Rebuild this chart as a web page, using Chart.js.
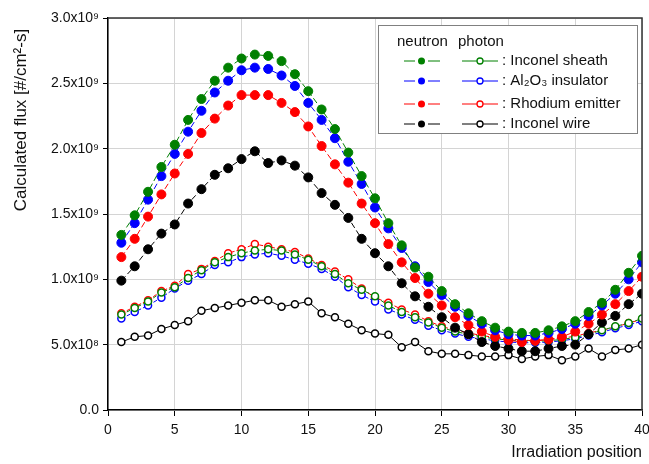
<!DOCTYPE html>
<html>
<head>
<meta charset="utf-8">
<script src="https://cdn.jsdelivr.net/npm/chart.js@4.4.1/dist/chart.umd.min.js"></script>
<style>
  html, body { margin: 0; padding: 0; background: #fff; }
  #wrap { width: 649px; height: 464px; }
</style>
</head>
<body>
<div id="wrap"><canvas id="fluxChart" width="649" height="464"></canvas></div>
<script>
// irradiation positions 1..40
const positions = [1, 2, 3, 4, 5, 6, 7, 8, 9, 10, 11, 12, 13, 14, 15, 16, 17, 18, 19, 20,
  21, 22, 23, 24, 25, 26, 27, 28, 29, 30, 31, 32, 33, 34, 35, 36, 37, 38, 39, 40];

// flux values in units of 1e9 #/cm2-s
const sheathNeutron = [1.34, 1.49, 1.67, 1.86, 2.03, 2.22, 2.38, 2.52, 2.62, 2.69, 2.72, 2.71, 2.67, 2.57, 2.44, 2.30, 2.15, 1.97, 1.79, 1.62,
  1.43, 1.26, 1.09, 1.02, 0.91, 0.81, 0.74, 0.68, 0.63, 0.60, 0.59, 0.59, 0.61, 0.64, 0.68, 0.75, 0.82, 0.92, 1.05, 1.18];
const insulatorNeutron = [1.28, 1.43, 1.61, 1.79, 1.96, 2.13, 2.29, 2.43, 2.52, 2.60, 2.62, 2.61, 2.56, 2.48, 2.35, 2.22, 2.08, 1.90, 1.73, 1.55,
  1.39, 1.24, 1.10, 0.98, 0.88, 0.79, 0.72, 0.66, 0.61, 0.58, 0.57, 0.57, 0.59, 0.62, 0.66, 0.72, 0.80, 0.89, 1.00, 1.13];
const emitterNeutron = [1.17, 1.31, 1.48, 1.65, 1.81, 1.96, 2.12, 2.23, 2.33, 2.41, 2.41, 2.41, 2.35, 2.28, 2.17, 2.02, 1.88, 1.74, 1.58, 1.43,
  1.27, 1.13, 1.01, 0.89, 0.80, 0.71, 0.65, 0.60, 0.56, 0.535, 0.52, 0.53, 0.54, 0.56, 0.60, 0.66, 0.73, 0.81, 0.91, 1.02];
const wireNeutron = [0.99, 1.10, 1.23, 1.35, 1.42, 1.58, 1.69, 1.80, 1.85, 1.92, 1.98, 1.89, 1.91, 1.87, 1.78, 1.66, 1.57, 1.47, 1.31, 1.20,
  1.10, 0.97, 0.87, 0.79, 0.71, 0.63, 0.58, 0.52, 0.49, 0.47, 0.45, 0.45, 0.47, 0.49, 0.50, 0.58, 0.67, 0.72, 0.81, 0.89];

const sheathPhoton = [0.73, 0.78, 0.83, 0.90, 0.94, 1.01, 1.07, 1.13, 1.17, 1.20, 1.22, 1.23, 1.22, 1.19, 1.15, 1.10, 1.04, 0.97, 0.92, 0.87,
  0.80, 0.75, 0.71, 0.67, 0.63, 0.60, 0.58, 0.56, 0.545, 0.535, 0.53, 0.525, 0.53, 0.54, 0.555, 0.58, 0.61, 0.64, 0.665, 0.70];
const insulatorPhoton = [0.70, 0.75, 0.80, 0.86, 0.93, 0.99, 1.04, 1.11, 1.13, 1.17, 1.19, 1.20, 1.18, 1.15, 1.12, 1.08, 1.02, 0.94, 0.88, 0.83,
  0.77, 0.73, 0.69, 0.645, 0.61, 0.585, 0.56, 0.545, 0.53, 0.52, 0.515, 0.515, 0.52, 0.53, 0.545, 0.57, 0.595, 0.625, 0.65, 0.68];
const emitterPhoton = [0.74, 0.79, 0.84, 0.91, 0.95, 1.04, 1.08, 1.14, 1.20, 1.23, 1.27, 1.25, 1.23, 1.21, 1.16, 1.11, 1.06, 1.00, 0.93, 0.86,
  0.82, 0.77, 0.73, 0.68, 0.64, 0.61, 0.59, 0.57, 0.555, 0.545, 0.535, 0.53, 0.54, 0.55, 0.565, 0.59, 0.61, 0.635, 0.665, 0.695];
const wirePhoton = [0.52, 0.56, 0.57, 0.62, 0.65, 0.68, 0.76, 0.78, 0.80, 0.82, 0.84, 0.84, 0.79, 0.81, 0.83, 0.74, 0.71, 0.66, 0.61, 0.585,
  0.575, 0.48, 0.52, 0.45, 0.43, 0.43, 0.42, 0.41, 0.41, 0.42, 0.39, 0.41, 0.42, 0.38, 0.41, 0.47, 0.41, 0.46, 0.47, 0.50];

const partNames = ['Inconel sheath', 'Al\u2082O\u2083 insulator', 'Rhodium emitter', 'Inconel wire'];
const partColors = ['#008000', '#0000ff', '#ff0000', '#000000'];
const yTickValues = [0, 0.5, 1.0, 1.5, 2.0, 2.5, 3.0];
const yTickLabels = ['0.0', '5.0x10\u2078', '1.0x10\u2079', '1.5x10\u2079', '2.0x10\u2079', '2.5x10\u2079', '3.0x10\u2079'];

const FONT = '"Liberation Sans", Arial, sans-serif';

function toPoints(values) {
  return positions.map(function(p, i) { return { x: p, y: values[i] }; });
}

function neutronSet(values, color) {
  return {
    data: toPoints(values),
    borderColor: color,
    borderWidth: 1,
    borderDash: [6, 3],
    pointRadius: 4.5,
    pointBackgroundColor: color,
    pointBorderColor: color,
    pointBorderWidth: 1,
    fill: false,
    tension: 0,
    clip: { left: 5, top: 5, right: 0, bottom: 5 }
  };
}

function photonSet(values, color, solid) {
  return {
    data: toPoints(values),
    borderColor: color,
    borderWidth: 1,
    borderDash: solid ? [] : [4, 2],
    pointRadius: 3.5,
    pointBackgroundColor: '#ffffff',
    pointBorderColor: color,
    pointBorderWidth: 1.5,
    fill: false,
    tension: 0,
    clip: { left: 5, top: 5, right: 0, bottom: 5 }
  };
}

const neutronValues = [sheathNeutron, insulatorNeutron, emitterNeutron, wireNeutron];
const photonValues = [sheathPhoton, insulatorPhoton, emitterPhoton, wirePhoton];

const datasets = [];
for (let k = 0; k < 4; k++) {
  datasets.push(neutronSet(neutronValues[k], partColors[k]));
}
for (let k = 0; k < 4; k++) {
  datasets.push(photonSet(photonValues[k], partColors[k], k === 3));
}

// frame, y title and the two-column legend
const decorPlugin = {
  id: 'decor',
  afterDatasetsDraw(chart) {
    const ctx = chart.ctx;
    const a = chart.chartArea;
    ctx.save();
    // top and right frame
    ctx.strokeStyle = '#333';
    ctx.lineWidth = 1.5;
    ctx.beginPath();
    ctx.moveTo(a.left, a.top);
    ctx.lineTo(a.right, a.top);
    ctx.lineTo(a.right, a.bottom);
    ctx.stroke();

    // legend box
    const bx = 378, by = 25, bw = 259, bh = 108;
    ctx.fillStyle = '#fff';
    ctx.fillRect(bx, by, bw, bh);
    ctx.strokeStyle = '#808080';
    ctx.lineWidth = 1;
    ctx.strokeRect(bx + 0.5, by + 0.5, bw, bh);

    ctx.fillStyle = '#111';
    ctx.font = '15px ' + FONT;
    ctx.textBaseline = 'middle';
    ctx.textAlign = 'left';
    ctx.fillText('neutron', 397, 42);
    ctx.fillText('photon', 458, 42);

    const rowY = [61, 81, 104, 124];
    for (let k = 0; k < 4; k++) {
      const y = rowY[k];
      const c = partColors[k];
      ctx.strokeStyle = c;
      ctx.lineWidth = 1;
      ctx.beginPath();
      ctx.moveTo(404, y); ctx.lineTo(415, y);
      ctx.moveTo(428, y); ctx.lineTo(440, y);
      ctx.stroke();
      ctx.fillStyle = c;
      ctx.beginPath();
      ctx.arc(421.5, y, 3.5, 0, Math.PI * 2);
      ctx.fill();

      ctx.beginPath();
      ctx.moveTo(462, y); ctx.lineTo(498, y);
      ctx.stroke();
      ctx.fillStyle = '#fff';
      ctx.lineWidth = 1.3;
      ctx.beginPath();
      ctx.arc(480, y, 3, 0, Math.PI * 2);
      ctx.fill();
      ctx.stroke();

      ctx.fillStyle = '#111';
      ctx.fillText(': ' + partNames[k], 502, y);
    }

    // y axis title
    ctx.translate(21, 120);
    ctx.rotate(-Math.PI / 2);
    ctx.textAlign = 'center';
    ctx.font = '17px ' + FONT;
    ctx.fillStyle = '#111';
    ctx.fillText('Calculated flux [#/cm\u00b2-s]', 0, 0);
    ctx.restore();
  }
};

const chart = new Chart(document.getElementById('fluxChart'), {
  type: 'line',
  data: { datasets: datasets },
  options: {
    responsive: false,
    devicePixelRatio: 1,
    animation: false,
    layout: { padding: { top: 18, right: 7, left: 0, bottom: 0 } },
    plugins: {
      legend: { display: false },
      tooltip: { enabled: false }
    },
    scales: {
      x: {
        type: 'linear',
        min: 0,
        max: 40,
        afterFit: function(scale) {
          scale.height = 54;
          scale.paddingLeft = 0;
          scale.paddingRight = 0;
        },
        ticks: {
          stepSize: 5,
          color: '#111',
          font: { size: 14, family: FONT },
          padding: 6,
          maxRotation: 0
        },
        grid: { color: '#d4d4d4', lineWidth: 1, tickColor: '#000', tickLength: 6 },
        border: { color: '#000', width: 1.5 },
        title: {
          display: true,
          text: 'Irradiation position',
          align: 'end',
          color: '#111',
          font: { size: 16, family: FONT },
          padding: { top: 0, bottom: 2 }
        }
      },
      y: {
        min: 0,
        max: 3,
        afterFit: function(scale) {
          scale.width = 108;
          scale.paddingTop = 0;
          scale.paddingBottom = 0;
        },
        afterBuildTicks: function(scale) {
          scale.ticks = yTickValues.map(function(v) { return { value: v }; });
        },
        ticks: {
          color: '#111',
          font: { size: 14, family: FONT },
          padding: 4,
          callback: function(value) {
            const i = yTickValues.indexOf(value);
            return i >= 0 ? yTickLabels[i] : '';
          }
        },
        grid: { color: '#d4d4d4', lineWidth: 1, tickColor: '#000', tickLength: 5 },
        border: { color: '#000', width: 1.5 }
      }
    }
  },
  plugins: [decorPlugin]
});
</script>
</body>
</html>
